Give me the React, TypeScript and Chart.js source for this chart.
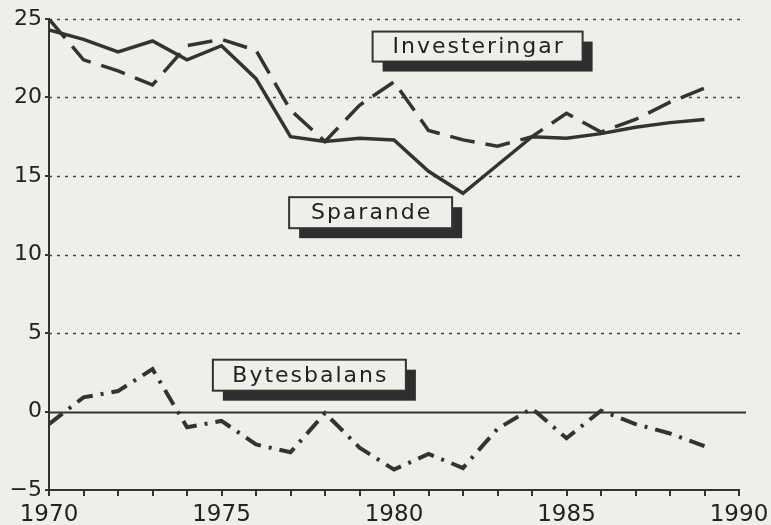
import React, { useEffect, useRef } from "react";
import { Chart, registerables } from "chart.js";

Chart.register(...registerables);

const years = [1970, 1971, 1972, 1973, 1974, 1975, 1976, 1977, 1978, 1979, 1980, 1981, 1982, 1983, 1984, 1985, 1986, 1987, 1988, 1989];
const investeringar = [25.0, 22.4, 21.7, 20.8, 23.3, 23.7, 23.0, 19.2, 17.2, 19.5, 21.0, 17.9, 17.3, 16.9, 17.5, 19.0, 17.8, 18.6, 19.7, 20.6];
const sparande = [24.3, 23.7, 22.9, 23.6, 22.4, 23.3, 21.2, 17.5, 17.2, 17.4, 17.3, 15.3, 13.9, 15.7, 17.5, 17.4, 17.7, 18.1, 18.4, 18.6];
const bytesbalans = [-0.8, 0.9, 1.3, 2.7, -1.0, -0.6, -2.1, -2.6, -0.1, -2.3, -3.7, -2.7, -3.6, -1.1, 0.2, -1.7, 0.05, -0.8, -1.4, -2.2];
const yTicks = [-5, 0, 5, 10, 15, 20, 25];
const xLabelYears = [1970, 1975, 1980, 1985, 1990];
const seriesNames = ["Investeringar", "Sparande", "Bytesbalans"];

const BG = "#efefea";
const INK = "#333333";
const FONT = "'DejaVu Sans', sans-serif";

export default function App() {
  const ref = useRef<HTMLCanvasElement | null>(null);

  useEffect(() => {
    document.body.style.margin = "0";
    document.body.style.background = BG;
    const canvas = ref.current;
    if (!canvas) return;

    // label boxes anchored in data units (left year, top value)
    const boxes = [
      { text: seriesNames[0], year: 1979.38, value: 24.2, w: 210, h: 30 },
      { text: seriesNames[1], year: 1976.96, value: 13.65, w: 163, h: 31 },
      { text: seriesNames[2], year: 1974.75, value: 3.3, w: 193, h: 31 },
    ];

    const bgPlugin = {
      id: "bg",
      beforeDraw(chart: any) {
        const ctx = chart.ctx;
        ctx.save();
        ctx.fillStyle = BG;
        ctx.fillRect(0, 0, chart.width, chart.height);
        ctx.restore();
      },
    };

    const gridPlugin = {
      id: "customGrid",
      beforeDatasetsDraw(chart: any) {
        const ctx = chart.ctx;
        const y = chart.scales.y;
        const area = chart.chartArea;
        ctx.save();
        yTicks.forEach((v) => {
          if (v === -5) return;
          const py = Math.round(y.getPixelForValue(v)) + 0.5;
          ctx.beginPath();
          if (v === 0) {
            ctx.setLineDash([]);
            ctx.lineWidth = 2;
            ctx.strokeStyle = INK;
            ctx.moveTo(area.left, py);
            ctx.lineTo(area.right + 7, py);
          } else {
            ctx.setLineDash([3, 5]);
            ctx.lineWidth = 1.5;
            ctx.strokeStyle = "#444";
            ctx.moveTo(area.left, py);
            ctx.lineTo(area.right + 4, py);
          }
          ctx.stroke();
        });
        ctx.restore();
      },
    };

    const boxPlugin = {
      id: "labelBoxes",
      afterDatasetsDraw(chart: any) {
        const ctx = chart.ctx;
        const xs = chart.scales.x;
        const ys = chart.scales.y;
        ctx.save();
        boxes.forEach((b) => {
          const left = xs.getPixelForValue(b.year);
          const top = ys.getPixelForValue(b.value);
          ctx.setLineDash([]);
          ctx.fillStyle = "#2e2e2e";
          ctx.fillRect(left + 10, top + 10, b.w, b.h);
          ctx.fillStyle = BG;
          ctx.fillRect(left, top, b.w, b.h);
          ctx.lineWidth = 2;
          ctx.strokeStyle = INK;
          ctx.strokeRect(left, top, b.w, b.h);
          ctx.fillStyle = "#222";
          ctx.font = `22px ${FONT}`;
          (ctx as any).letterSpacing = "2px";
          ctx.textAlign = "center";
          ctx.textBaseline = "middle";
          ctx.fillText(b.text, left + b.w / 2 + 1, top + b.h / 2 + 1);
        });
        ctx.restore();
      },
    };

    const chart = new Chart(canvas, {
      type: "line",
      data: {
        datasets: [
          {
            label: seriesNames[0],
            data: years.map((yr, i) => ({ x: yr, y: investeringar[i] })),
            borderColor: INK,
            borderWidth: 3.5,
            borderDash: [25, 11],
            pointRadius: 0,
            tension: 0,
            fill: false,
          },
          {
            label: seriesNames[1],
            data: years.map((yr, i) => ({ x: yr, y: sparande[i] })),
            borderColor: INK,
            borderWidth: 3.5,
            pointRadius: 0,
            tension: 0,
            fill: false,
          },
          {
            label: seriesNames[2],
            data: years.map((yr, i) => ({ x: yr, y: bytesbalans[i] })),
            borderColor: INK,
            borderWidth: 4,
            borderDash: [17, 8, 3, 8],
            pointRadius: 0,
            tension: 0,
            fill: false,
          },
        ],
      },
      options: {
        animation: false,
        responsive: false,
        devicePixelRatio: 1,
        layout: { padding: { top: 19, right: 32, left: 0, bottom: 0 } },
        plugins: {
          legend: { display: false },
          tooltip: { enabled: false },
        },
        scales: {
          x: {
            type: "linear",
            min: 1970,
            max: 1990,
            afterFit: (s: any) => {
              s.height = 35;
              s.paddingLeft = 0;
              s.paddingRight = 0;
            },
            afterBuildTicks: (s: any) => {
              const t = [];
              for (let v = 1970; v <= 1990; v++) t.push({ value: v });
              s.ticks = t;
            },
            ticks: {
              autoSkip: false,
              maxRotation: 0,
              color: "#222",
              font: { family: FONT, size: 23 },
              padding: 5,
              callback: (v: any) => (xLabelYears.includes(Number(v)) ? String(v) : ""),
            },
            grid: {
              drawOnChartArea: false,
              drawTicks: true,
              tickLength: 6,
              color: INK,
              lineWidth: 2,
            },
            border: { display: true, color: INK, width: 2 },
          },
          y: {
            min: -5,
            max: 25,
            afterFit: (s: any) => {
              s.width = 49;
              s.paddingTop = 0;
              s.paddingBottom = 0;
            },
            afterBuildTicks: (s: any) => {
              s.ticks = yTicks.map((v) => ({ value: v }));
            },
            ticks: {
              color: "#222",
              font: { family: FONT, size: 22 },
              padding: 3,
              callback: (v: any) => (Number(v) < 0 ? "\u2212" + Math.abs(Number(v)) : String(v)),
            },
            grid: {
              drawOnChartArea: false,
              drawTicks: true,
              tickLength: 4,
              color: INK,
              lineWidth: 2,
            },
            border: { display: true, color: INK, width: 2 },
          },
        },
      },
      plugins: [bgPlugin, gridPlugin, boxPlugin],
    } as any);

    return () => chart.destroy();
  }, []);

  return <canvas ref={ref} width={771} height={525} style={{ display: "block" }} />;
}
